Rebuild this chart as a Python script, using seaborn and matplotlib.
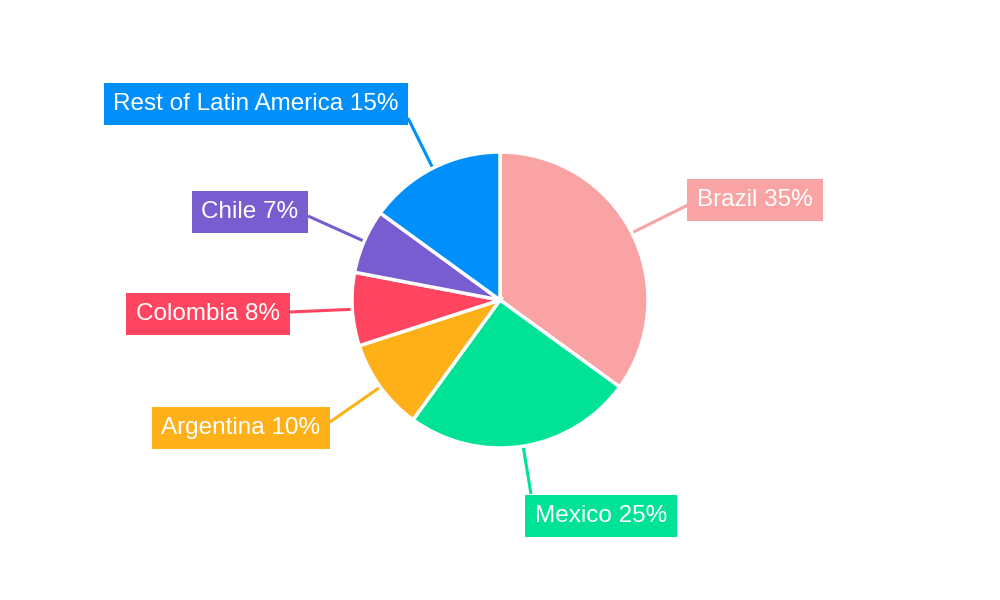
import numpy as np
import matplotlib
matplotlib.use("Agg")
import matplotlib.pyplot as plt
import seaborn as sns

# data
countries = ["Brazil", "Mexico", "Argentina", "Colombia", "Chile", "Rest of Latin America"]
shares = [35, 25, 10, 8, 7, 15]
colors = ["#F9A3A4", "#00E396", "#FEB019", "#FF4560", "#775DD0", "#008FFB"]

# label layout in pixel coords (box centre, connector end)
label_pos = [(755, 200), (601, 516), (241, 428), (208, 314), (250, 212), (256, 104)]
line_end = [(688, 205), (531, 494), (330, 422), (290, 312), (308, 216), (408, 118)]

sns.set_theme(style="white")
plt.rcParams['font.family'] = ['Liberation Sans', 'DejaVu Sans']

fig = plt.figure(figsize=(10, 6), dpi=100)
ax = fig.add_axes([0, 0, 1, 1])

pal = sns.color_palette(colors)
cx, cy, r = 500, 300, 148
wedges, _ = ax.pie(shares, colors=pal, startangle=90, counterclock=False,
                   center=(cx, cy), radius=r, frame=True,
                   wedgeprops=dict(edgecolor="white", linewidth=2.5))
ax.set_xlim(0, 1000)
ax.set_ylim(0, 600)
ax.axis("off")

for w, name, val, col, (tx, ty), (ex, ey) in zip(wedges, countries, shares, colors, label_pos, line_end):
    w.set_zorder(3)
    mid = np.deg2rad((w.theta1 + w.theta2) / 2)
    sx = cx + r * np.cos(mid)
    sy = cy + r * np.sin(mid)
    ax.plot([sx, ex], [sy, 600 - ey], color=col, lw=2.2, zorder=2, solid_capstyle="butt")
    ax.text(tx, 600 - ty, f"{name} {val}%", color="white", fontsize=17.5,
            ha="center", va="center", zorder=4,
            bbox=dict(boxstyle="square,pad=0.4", fc=col, ec="none"))

fig.savefig("out.png", dpi=100)
